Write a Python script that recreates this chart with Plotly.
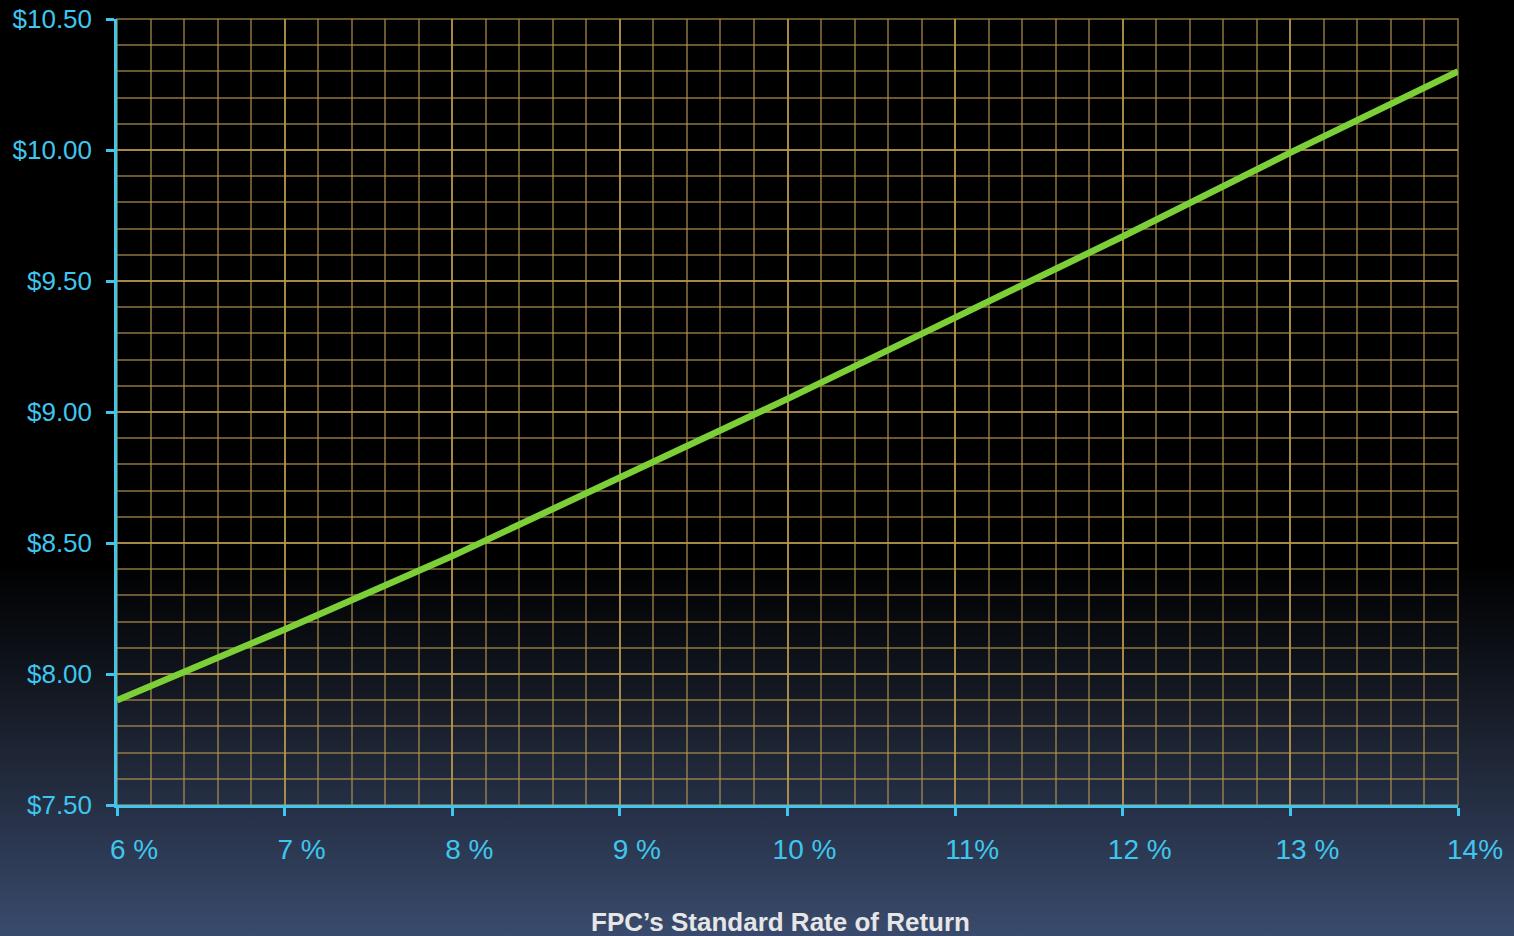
import base64
import plotly.graph_objects as go

# Standard rate of return (%) and resulting value ($)
rate_pct = [6, 7, 8, 9, 10, 11, 12, 13, 14]
value_usd = [7.90, 8.17, 8.45, 8.75, 9.05, 9.36, 9.67, 9.99, 10.30]

x_tick_vals = [6, 7, 8, 9, 10, 11, 12, 13, 14]
x_tick_text = ["6 %", "7 %", "8 %", "9 %", "10 %", "11%", "12 %", "13 %", "14%"]
y_tick_vals = [7.5, 8.0, 8.5, 9.0, 9.5, 10.0, 10.5]
y_tick_text = ["$7.50", "$8.00", "$8.50", "$9.00", "$9.50", "$10.00", "$10.50"]

CYAN = "#3fc6ee"
GRID = "rgba(185,152,78,0.75)"
GRID_MINOR = "rgba(175,145,75,0.60)"
LINE = "#7dcf38"
FONT = "Liberation Sans, Arial, sans-serif"

# vertical background gradient: black at top fading to slate blue at the bottom
svg = """<svg xmlns='http://www.w3.org/2000/svg' width='1514' height='936' preserveAspectRatio='none'>
<defs><linearGradient id='g' x1='0' y1='0' x2='0' y2='1'>
<stop offset='0' stop-color='#000000'/>
<stop offset='0.60' stop-color='#000000'/>
<stop offset='0.68' stop-color='#0a0d13'/>
<stop offset='0.78' stop-color='#1a202d'/>
<stop offset='0.90' stop-color='#2b3750'/>
<stop offset='1' stop-color='#394b6d'/>
</linearGradient></defs>
<rect width='1514' height='936' fill='url(#g)'/></svg>"""
bg_uri = "data:image/svg+xml;base64," + base64.b64encode(svg.encode()).decode()

fig = go.Figure()
fig.add_trace(go.Scatter(
    x=rate_pct, y=value_usd, mode="lines",
    line=dict(color=LINE, width=6.5),
    cliponaxis=False, hoverinfo="skip", showlegend=False,
))

fig.update_layout(
    width=1514, height=936,
    margin=dict(l=117, r=56, t=19, b=131, autoexpand=False),
    paper_bgcolor="#000000",
    plot_bgcolor="rgba(0,0,0,0)",
    font=dict(family=FONT, color=CYAN),
    images=[dict(source=bg_uri, xref="paper", yref="paper",
                 x=-117 / 1341, y=1 + 19 / 786,
                 sizex=1514 / 1341, sizey=936 / 786,
                 xanchor="left", yanchor="top", sizing="stretch", layer="below")],
    # gold frame closing the grid along the top and right edges
    shapes=[dict(type="rect", xref="paper", yref="paper", x0=0, x1=1, y0=0, y1=1,
                 line=dict(color=GRID, width=1.5), layer="below")],
    annotations=[dict(text="<b>FPC’s Standard Rate of Return</b>",
                      xref="paper", yref="paper", x=0.5, y=0,
                      xshift=-7, yshift=-117, yanchor="middle", showarrow=False,
                      font=dict(size=26, color="#e6e6e6", family=FONT))],
)

fig.update_xaxes(
    range=[6, 14], tickmode="array", tickvals=x_tick_vals, ticktext=x_tick_text,
    automargin=False,
    showline=True, linecolor=CYAN, linewidth=2.5,
    ticks="outside", ticklen=8, tickwidth=2.5, tickcolor=CYAN,
    tickfont=dict(size=28, color=CYAN), ticklabelshift=17, ticklabelstandoff=10,
    showgrid=True, gridcolor=GRID, gridwidth=1.5,
    minor=dict(dtick=0.2, showgrid=True, gridcolor=GRID_MINOR, gridwidth=1.5),
    zeroline=False,
)
fig.update_yaxes(
    range=[7.5, 10.5], tickmode="array", tickvals=y_tick_vals, ticktext=y_tick_text,
    automargin=False,
    showline=True, linecolor=CYAN, linewidth=2.5,
    ticks="outside", ticklen=8, tickwidth=2.5, tickcolor=CYAN,
    tickfont=dict(size=26, color=CYAN), ticklabelstandoff=9,
    showgrid=True, gridcolor=GRID, gridwidth=1.5,
    minor=dict(dtick=0.1, showgrid=True, gridcolor=GRID_MINOR, gridwidth=1.5),
    zeroline=False,
)

fig.write_html("out.html")
